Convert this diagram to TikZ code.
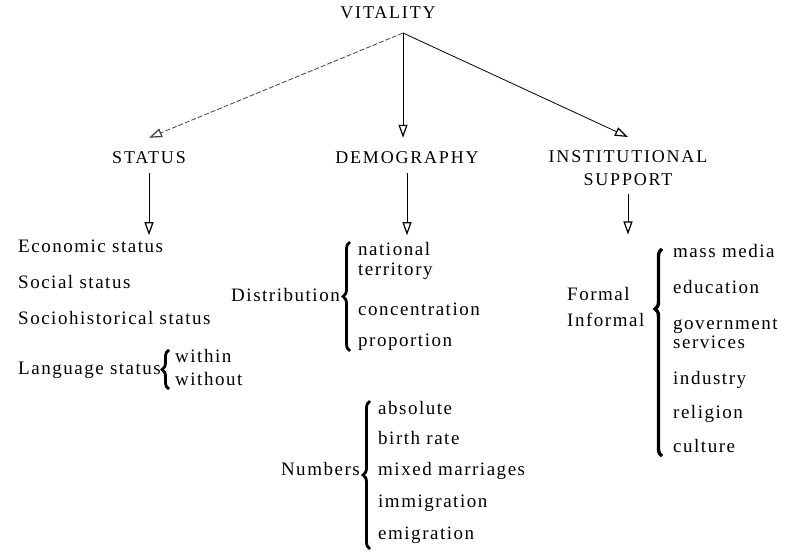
\documentclass[tikz,border=0pt]{standalone}
\usepackage{fontspec}
\setmainfont{Liberation Serif}
\usetikzlibrary{arrows.meta,decorations.pathreplacing}

\begin{document}
\begin{tikzpicture}[x=1pt,y=-1pt,
  item/.style={font=\fontsize{19}{22}\selectfont\addfontfeatures{LetterSpace=8},
               inner sep=0pt, anchor=west, text height=12pt, text depth=4pt},
  itemr/.style={item, anchor=east},
  head/.style={font=\fontsize{18}{23}\selectfont\addfontfeatures{LetterSpace=10},
               inner sep=0pt, align=center},
  arr/.style={-{Triangle[open,length=13pt,width=9pt,line width=1.2pt]}, line width=0.8pt},
  brc/.style={decorate, decoration={brace, amplitude=7pt, aspect=#1}, line width=2.8pt},
  brc/.default=0.5,
]
\useasboundingbox (0,0) rectangle (800,556);

% top level and the three factors
\node[head] (vit)  at (388,13)  {VITALITY};
\node[head] (stat) at (149,158) {STATUS};
\node[head] (demo) at (407,158) {DEMOGRAPHY};
\node[head, anchor=north] (inst) at (628,150) {INSTITUTIONAL\\SUPPORT};

\coordinate (apex) at (403,33);
\draw[arr, black!75, dash pattern=on 5pt off 2pt] (apex) -- ([yshift=14pt]stat.north);
\draw[arr] (apex) -- ([yshift=14pt]apex |- demo.north);
\draw[arr] (apex) -- ([yshift=13pt]inst.north);

% status
\draw[arr] ([yshift=-9pt]stat.south) -- ++(0,62);
\node[item] (eco) at (18,248) {Economic status};
\node[item] (soc) at (18,284) {Social status};
\node[item] (his) at (18,320) {Sociohistorical status};
\node[item] (lang) at (18,370) {Language status};
\node[item] (win) at (175,358) {within};
\node[item] (wout) at (175,381) {without};
\draw[brc] ([xshift=-6pt]wout.south west) -- ([xshift=-6pt]win.north west);

% demography
\draw[arr] ([yshift=-9pt]demo.south) -- ++(0,62);
\node[itemr] (dist) at (340,297) {Distribution};
\node[item] (nat)  at (358,251) {national};
\node[item] (ter)  at (358,271) {territory};
\node[item] (conc) at (358,311) {concentration};
\node[item] (prop) at (358,342) {proportion};
\draw[brc] (350,351) -- (350,242);

\node[itemr] (num) at (360,471) {Numbers};
\node[item] (abs) at (378,410) {absolute};
\node[item] (bir) at (378,440) {birth rate};
\node[item] (mix) at (378,471) {mixed marriages};
\node[item] (imm) at (378,503) {immigration};
\node[item] (emi) at (378,535) {emigration};
\draw[brc] (370,549) -- (370,401);

% institutional support
\draw[arr] ([yshift=-9pt]inst.south) -- ++(0,40);
\node[item] (form) at (567,296) {Formal};
\node[item] (inf)  at (567,322) {Informal};
\node[item] (mm)  at (673,253) {mass media};
\node[item] (edu) at (673,289) {education};
\node[item] (gov) at (673,325) {government};
\node[item] (ser) at (673,344) {services};
\node[item] (ind) at (673,380) {industry};
\node[item] (rel) at (673,414) {religion};
\node[item] (cul) at (673,448) {culture};
\draw[brc=0.71, line width=3.4pt] (662,456) -- (662,249);
\end{tikzpicture}
\end{document}
